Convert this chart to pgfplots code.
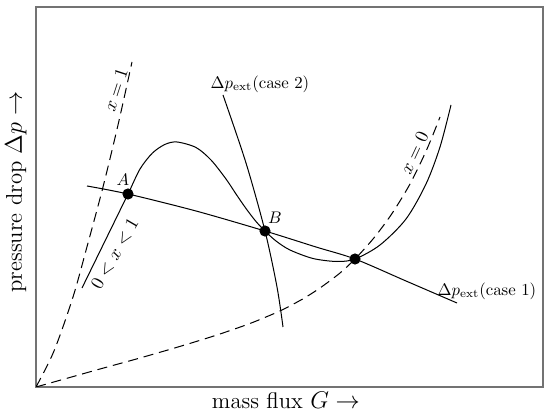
\documentclass[border=0pt]{standalone}
\usepackage{pgfplots}
\pgfplotsset{compat=1.18}
\begin{document}
\begin{tikzpicture}
\begin{axis}[
  name=ax,
  scale only axis,
  width=301.8pt, height=226.2pt,
  xmin=0, xmax=507, ymin=0, ymax=380,
  xtick=\empty, ytick=\empty,
  axis line style={black!55, line width=0.8pt},
  xlabel={mass flux $G\rightarrow$},
  ylabel={pressure drop $\Delta p\rightarrow$},
  label style={font=\fontsize{13.5}{16}\selectfont},
  xlabel style={at={(axis description cs:0.493,-0.013)}, anchor=north, inner sep=0pt},
  ylabel style={at={(axis description cs:-0.018,0.513)}, anchor=south, inner sep=0pt},
  every axis plot/.append style={line width=0.6pt},
]
% x = 1 (dashed)
\addplot[black, smooth, dash pattern=on 6pt off 3.5pt] coordinates {
 (0,0) (18,36) (37,90) (52,144) (67,200) (82,262) (96,325)};
% x = 0 (dashed)
\addplot[black, smooth, dash pattern=on 6pt off 3.5pt] coordinates {
 (0,0) (32,9) (64,18) (104,29) (144,40.6) (180,51.7) (211,62.4) (230,70)
 (246,77) (260,84.3) (271,90.6) (285,99.7) (304,114) (319,128)
 (337,148) (355,172) (374,203) (391,238) (404,270)};
% two-phase characteristic (solid)
\addplot[black, smooth] coordinates {
 (46,99) (69,146) (92,193) (104,218) (116.5,234) (129,242.6) (141,245)
 (160,239.5) (175,227) (190,208) (200,193) (210,178.5) (220,165.5) (229,156)
 (240,146) (254,137) (277,128.5) (301,125.5) (319,128)
 (344,142) (370,168) (390,203) (404,240) (415,282)};
% Delta p ext case 1
\addplot[black, smooth] coordinates {
 (51,201) (92,193) (160,176) (229,156) (280,140) (319,128) (370,106) (421,84)};
% Delta p ext case 2
\addplot[black, smooth] coordinates {
 (187,292) (210,224) (229,156) (241,100) (247,60)};
% operating points
\addplot[only marks, mark=*, mark size=3pt, black] coordinates {
 (92,193) (229,156) (319,128)};
\node at (axis cs:87,207) {$A$};
\node at (axis cs:239,169) {$B$};
\node at (axis cs:224,303) {$\Delta p_{\mathrm{ext}}(\mathrm{case}\ 2)$};
\node at (axis cs:451,96) {$\Delta p_{\mathrm{ext}}(\mathrm{case}\ 1)$};
\node[rotate=72, anchor=south, inner sep=2pt, font=\fontsize{11}{13}\selectfont] at (axis cs:89,294) {$x=1$};
\node[rotate=60, font=\fontsize{11}{13}\selectfont] at (axis cs:79,133) {$0<x<1$};
\node[rotate=65, anchor=south, inner sep=2pt, font=\fontsize{11}{13}\selectfont] at (axis cs:387,230) {$x=0$};
\end{axis}
\pgfresetboundingbox
\path ([shift={(-21.43pt,-19.64pt)}]ax.south west) rectangle ([shift={(4.17pt,4.17pt)}]ax.north east);
\end{tikzpicture}
\end{document}
